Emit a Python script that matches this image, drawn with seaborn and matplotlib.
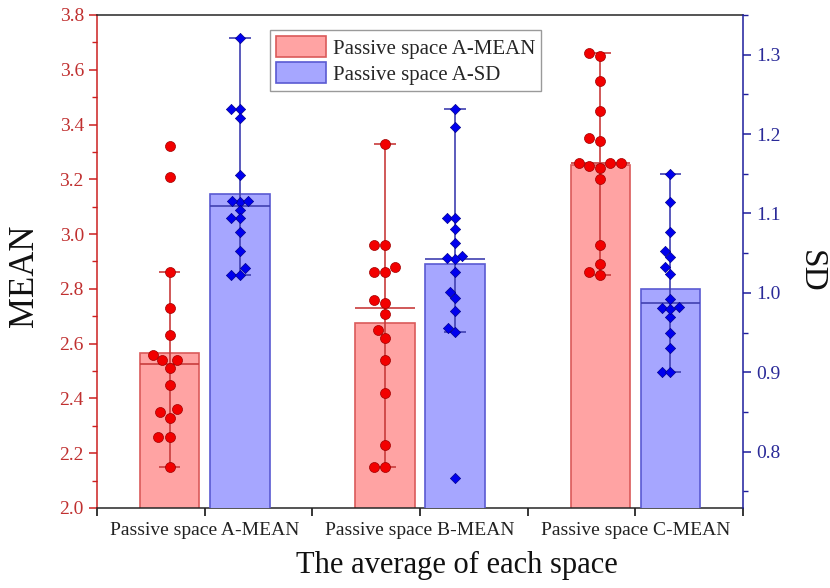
import numpy as np
import pandas as pd
import matplotlib
matplotlib.use('Agg')
import matplotlib.pyplot as plt
from matplotlib.patches import Patch
from matplotlib.ticker import MultipleLocator, FormatStrFormatter
import seaborn as sns

# categories on the x axis
spaces = ['Passive space A-MEAN', 'Passive space B-MEAN', 'Passive space C-MEAN']

# MEAN values per space (left axis)
mean_a = [3.32, 3.21, 2.86, 2.73, 2.63, 2.56, 2.54, 2.54, 2.51, 2.45, 2.36, 2.35, 2.33, 2.26, 2.26, 2.15]
mean_b = [3.33, 2.96, 2.96, 2.86, 2.86, 2.88, 2.76, 2.75, 2.71, 2.65, 2.62, 2.54, 2.42, 2.23, 2.15, 2.15]
mean_c = [3.66, 3.65, 3.56, 3.45, 3.35, 3.34, 3.26, 3.25, 3.26, 3.26, 3.24, 3.20, 2.96, 2.89, 2.85, 2.86]

# SD values per space (right axis)
sd_a = [1.321, 1.232, 1.232, 1.220, 1.148, 1.114, 1.116, 1.116, 1.104, 1.094, 1.094, 1.077, 1.053, 1.031, 1.023, 1.023]
sd_b = [1.232, 1.209, 1.094, 1.094, 1.080, 1.063, 1.047, 1.042, 1.044, 1.026, 0.993, 1.001, 0.977, 0.951, 0.956, 0.767]
sd_c = [1.150, 1.115, 1.077, 1.053, 1.045, 1.032, 1.024, 0.982, 0.969, 0.981, 0.992, 0.980, 0.949, 0.930, 0.900, 0.900]

legend_labels = ['Passive space A-MEAN', 'Passive space A-SD']

sns.set_style('ticks')
plt.rcParams['font.family'] = ['Liberation Serif', 'DejaVu Serif']
plt.rcParams['axes.linewidth'] = 1.1

# long table; MEAN bars sit left of the category centre, SD bars right of it
shift = 0.163
rows = []
for i, (m, s) in enumerate(zip([mean_a, mean_b, mean_c], [sd_a, sd_b, sd_c])):
    rows += [(i - shift, 'MEAN', v) for v in m]
    rows += [(i + shift, 'SD', v) for v in s]
df = pd.DataFrame(rows, columns=['pos', 'measure', 'value'])

styles = {
    'MEAN': dict(fill='#FFA3A3', edge='#DA5A5A', line='#C83C3C', dot='#F20000',
                 dot_edge='#A00000', marker='o', size=7.2, axis='#CC2020', text='#C03030'),
    'SD': dict(fill='#A6A6FF', edge='#5A5AD2', line='#4040B0', dot='#0000EE',
               dot_edge='#000090', marker='D', size=5.2, axis='#1E1E9C', text='#2A2A98'),
}

fig = plt.figure(figsize=(8.3, 5.88), dpi=100)
ax1 = fig.add_axes([0.1169, 0.1361, 0.7783, 0.8384])
ax2 = ax1.twinx()

for ax, meas in [(ax1, 'MEAN'), (ax2, 'SD')]:
    st = styles[meas]
    sub = df[df['measure'] == meas]
    sns.barplot(data=sub, x='pos', y='value', native_scale=True, orient='x', width=0.276,
                color=st['fill'], saturation=1, edgecolor=st['edge'], linewidth=1.2,
                errorbar=None, ax=ax, zorder=1)
    # median line and 1.5*IQR whiskers
    for pos, grp in sub.groupby('pos'):
        v = np.sort(grp['value'].to_numpy())
        q1, q3 = np.percentile(v, [25, 75], method='midpoint')
        iqr = q3 - q1
        lo = v[v >= q1 - 1.5 * iqr].min()
        hi = v[v <= q3 + 1.5 * iqr].max()
        ax.vlines(pos, lo, hi, color=st['line'], lw=1.2, zorder=2)
        ax.hlines([lo, hi], pos - 0.05, pos + 0.05, color=st['line'], lw=1.2, zorder=2)
        ax.hlines(np.median(v), pos - 0.138, pos + 0.138, color=st['line'], lw=1.2, zorder=2)
    sns.swarmplot(data=sub, x='pos', y='value', native_scale=True, orient='x',
                  color=st['dot'], marker=st['marker'], size=st['size'],
                  edgecolor=st['dot_edge'], linewidth=0.5, ax=ax, zorder=3)

# axes ranges and ticks
ax1.set_xlim(-0.5, 2.5)
ax1.set_ylim(2.0, 3.8)
ax2.set_ylim(0.729, 1.350)

ax1.set_xticks(range(len(spaces)))
ax1.set_xticklabels(spaces)
ax1.set_xticks([-0.5, 0.5, 1.5, 2.5], minor=True)
ax1.tick_params(axis='x', which='both', length=6, width=1.1, labelsize=14, pad=4,
                colors='black', labelcolor='#222222')

ax1.yaxis.set_major_locator(MultipleLocator(0.2))
ax1.yaxis.set_minor_locator(MultipleLocator(0.1))
ax1.yaxis.set_major_formatter(FormatStrFormatter('%.1f'))
ax1.tick_params(axis='y', which='major', length=6, width=1.1, labelsize=14,
                colors=styles['MEAN']['axis'], labelcolor=styles['MEAN']['text'])
ax1.tick_params(axis='y', which='minor', length=3.5, width=1.0, colors=styles['MEAN']['axis'])

ax2.yaxis.set_major_locator(MultipleLocator(0.1))
ax2.yaxis.set_minor_locator(MultipleLocator(0.05))
ax2.yaxis.set_major_formatter(FormatStrFormatter('%.1f'))
ax2.tick_params(axis='y', which='major', length=6, width=1.1, labelsize=14,
                colors=styles['SD']['axis'], labelcolor=styles['SD']['text'])
ax2.tick_params(axis='y', which='minor', length=3.5, width=1.0, colors=styles['SD']['axis'])

# spines
ax1.spines['left'].set_color(styles['MEAN']['axis'])
ax1.spines['right'].set_visible(False)
ax2.spines['right'].set_color(styles['SD']['axis'])
for s in ['left', 'top', 'bottom']:
    ax2.spines[s].set_visible(False)

# axis titles
ax1.set_xlabel('The average of each space', fontsize=22, color='#111111')
ax1.xaxis.set_label_coords(0.557, -0.088)
ax1.set_ylabel('MEAN', fontsize=25, color='#111111')
ax1.yaxis.set_label_coords(-0.086, 0.47)
ax2.set_ylabel('SD', fontsize=24, rotation=270, va='bottom', color='#111111')
ax2.yaxis.set_label_coords(1.082, 0.479)

# legend
handles = [Patch(facecolor=styles[m]['fill'], edgecolor=styles[m]['edge'], lw=1.2)
           for m in ['MEAN', 'SD']]
leg = ax2.legend(handles, legend_labels, loc='upper left', bbox_to_anchor=(0.268, 0.97),
                 borderaxespad=0, fontsize=15, frameon=True, fancybox=False,
                 edgecolor='#9a9a9a', framealpha=1, handlelength=2.4, handleheight=1.2,
                 handletextpad=0.3, labelspacing=0.15, borderpad=0.3)
leg.get_frame().set_linewidth(1.0)

fig.savefig('out.png', dpi=100)
